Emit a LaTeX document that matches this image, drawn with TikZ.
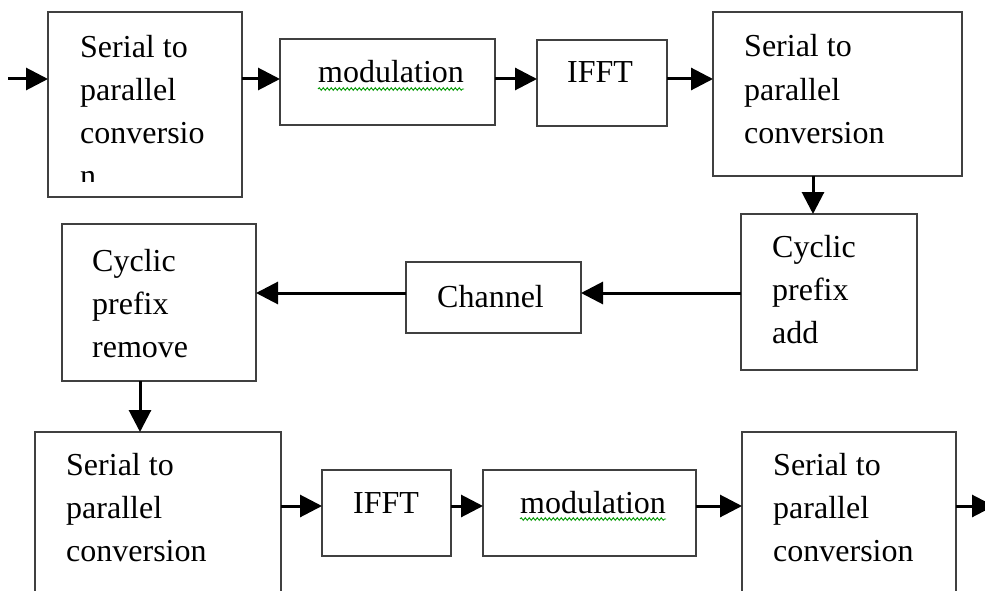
\documentclass[tikz,border=0pt]{standalone}
\usepackage{fontspec}
\setmainfont{Liberation Serif}
\usetikzlibrary{arrows.meta,calc,decorations.pathmorphing}
\begin{document}
\begin{tikzpicture}[x=1pt,y=-1pt,
  blk/.style={draw=black!75, line width=2.2pt, rectangle, inner sep=0pt, outer sep=0pt, anchor=north west},
  lbl/.style={font=\fontsize{32}{43}\selectfont, inner sep=0pt, align=left, anchor=base west},
  arr/.style={line width=3pt, -{Triangle[length=22pt,width=22pt]}},
  squig/.style={draw=green!60!black, line width=0.9pt, decorate, decoration={snake, amplitude=1.3pt, segment length=4pt}}]
\useasboundingbox (0,0) rectangle (985,591);
\fill[white] (0,0) rectangle (985,591);
\clip (0,0) rectangle (985,591);
% boxes
\node[blk, minimum width=194pt, minimum height=185pt] (b1) at (48,12) {};
\node[blk, minimum width=215pt, minimum height=86pt] (mod1) at (280,39) {};
\node[blk, minimum width=130pt, minimum height=86pt] (ifft1) at (537,40) {};
\node[blk, minimum width=249pt, minimum height=164pt] (s2p2) at (713,12) {};
\node[blk, minimum width=176pt, minimum height=156pt] (cpa) at (741,214) {};
\node[blk, minimum width=175pt, minimum height=71pt] (chan) at (406,262) {};
\node[blk, minimum width=194pt, minimum height=157pt] (cpr) at (62,224) {};
\node[blk, minimum width=246pt, minimum height=220pt] (s2p3) at (35,432) {};
\node[blk, minimum width=129pt, minimum height=86pt] (ifft2) at (322,470) {};
\node[blk, minimum width=213pt, minimum height=86pt] (mod2) at (483,470) {};
\node[blk, minimum width=214pt, minimum height=220pt] (s2p4) at (742,432) {};
% texts (base anchor = baseline of the last line)
\begin{scope}
\clip (b1.north west) rectangle ($(b1.south east)+(0,-16)$);
\node[lbl] (t1) at ($(b1.north west)+(32,45+129)$) {Serial to\\parallel\\conversio\\n};
\end{scope}
\node[lbl] (t2) at ($(mod1.north west)+(38,44)$) {modulation};
\node[lbl] (t3) at ($(ifft1.north west)+(30,43)$) {IFFT};
\node[lbl] (t4) at ($(s2p2.north west)+(31,45+86)$) {Serial to\\parallel\\conversion};
\node[lbl] (t5) at ($(cpa.north west)+(31,43+86)$) {Cyclic\\prefix\\add};
\node[lbl] (t6) at ($(chan.north west)+(31,45)$) {Channel};
\node[lbl] (t7) at ($(cpr.north west)+(30,47+86)$) {Cyclic\\prefix\\remove};
\node[lbl] (t8) at ($(s2p3.north west)+(31,43+86)$) {Serial to\\parallel\\conversion};
\node[lbl] (t9) at ($(ifft2.north west)+(31,43)$) {IFFT};
\node[lbl] (t10) at ($(mod2.north west)+(37,43)$) {modulation};
\node[lbl] (t11) at ($(s2p4.north west)+(31,43+86)$) {Serial to\\parallel\\conversion};
% spell-check underlines
\draw[squig] ($(t2.base west)+(0,6)$) -- ($(t2.base east)+(0,6)$);
\draw[squig] ($(t10.base west)+(0,6)$) -- ($(t10.base east)+(0,6)$);
% connectors
\coordinate (row1) at (0,79);
\coordinate (row2) at (0,293);
\coordinate (row3) at (0,506);
\coordinate (in) at (8,79);
\coordinate (out) at (994,506);
\draw[arr] (in) -- (in -| b1.west);
\draw[arr] (b1.east |- row1) -- (mod1.west |- row1);
\draw[arr] (mod1.east |- row1) -- (ifft1.west |- row1);
\draw[arr] (ifft1.east |- row1) -- (s2p2.west |- row1);
\coordinate (d1) at ($(s2p2.south west)+(100,0)$);
\draw[arr] (d1) -- (d1 |- cpa.north);
\draw[arr] (cpa.west |- row2) -- (chan.east |- row2);
\draw[arr] (chan.west |- row2) -- (cpr.east |- row2);
\coordinate (d2) at ($(cpr.south west)+(78,0)$);
\draw[arr] (d2) -- (d2 |- s2p3.north);
\draw[arr] (s2p3.east |- row3) -- (ifft2.west |- row3);
\draw[arr] (ifft2.east |- row3) -- (mod2.west |- row3);
\draw[arr] (mod2.east |- row3) -- (s2p4.west |- row3);
\draw[arr] (s2p4.east |- row3) -- (out);
\end{tikzpicture}
\end{document}
